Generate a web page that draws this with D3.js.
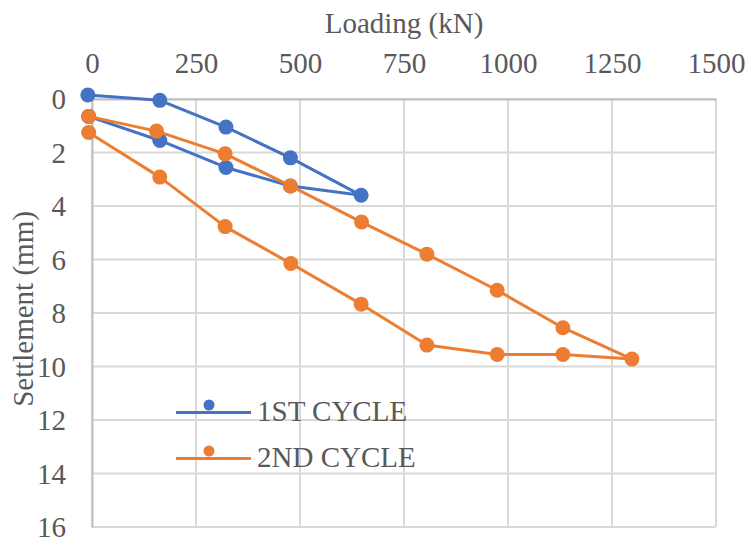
<!DOCTYPE html>
<html>
<head>
<meta charset="utf-8">
<script src="https://cdn.jsdelivr.net/npm/d3@7"></script>
<style>
  body { margin: 0; background: #fff; }
</style>
</head>
<body>
<div id="chart-area"></div>
<script>
// Dane: obciazenie (kN) i osiadanie (mm)
var xTicks = [0, 250, 500, 750, 1000, 1250, 1500];
var yTicks = [0, 2, 4, 6, 8, 10, 12, 14, 16];

var cycle1Load = [-10, 163, 322, 477, 647, 477, 322, 163, -8];
var cycle1Settle = [-0.15, 0.05, 1.05, 2.2, 3.6, 3.25, 2.56, 1.55, 0.65];

var cycle2Load = [-8, 155, 320, 477, 648, 805, 974, 1132, 1298, 1132, 974, 805, 647, 478, 320, 163, -8];
var cycle2Settle = [0.65, 1.2, 2.05, 3.25, 4.6, 5.8, 7.15, 8.55, 9.72, 9.55, 9.55, 9.2, 7.67, 6.15, 4.77, 2.92, 1.25];

var seriesNames = ["1ST CYCLE", "2ND CYCLE"];
var seriesColors = ["#4472C4", "#ED7D31"];

var W = 751, H = 538;
var plot = { left: 92, right: 716, top: 99, bottom: 527 };
var fontStyle = "font-family:'Liberation Serif';font-size:29px;fill:#595959";

var svg = d3.select("#chart-area")
	.append("svg")
	.attr("width", W)
	.attr("height", H)
	.attr("font-family", "Liberation Serif");

var x = d3.scaleLinear().domain([0, 1500]).range([plot.left, plot.right]);
var y = d3.scaleLinear().domain([0, 16]).range([plot.top, plot.bottom]);

// Siatka
svg.append("g").selectAll("line.v")
	.data(xTicks)
	.enter().append("line")
	.attr("x1", d => x(d)).attr("x2", d => x(d))
	.attr("y1", plot.top).attr("y2", plot.bottom)
	.attr("stroke", "#d9d9d9").attr("stroke-width", 2);

svg.append("g").selectAll("line.h")
	.data(yTicks)
	.enter().append("line")
	.attr("x1", plot.left).attr("x2", plot.right)
	.attr("y1", d => y(d)).attr("y2", d => y(d))
	.attr("stroke", "#d9d9d9").attr("stroke-width", 2);

// Osie
var xAxisCall = d3.axisTop(x).tickValues(xTicks).tickFormat(d3.format("d")).tickSize(0).tickPadding(26);
var xAxis = svg.append("g")
	.attr("transform", "translate(0," + plot.top + ")")
	.call(xAxisCall);

var yAxisCall = d3.axisLeft(y).tickValues(yTicks).tickFormat(d3.format("d")).tickSize(0).tickPadding(26);
var yAxis = svg.append("g")
	.attr("transform", "translate(" + plot.left + ",0)")
	.call(yAxisCall);

[xAxis, yAxis].forEach(a => {
	a.attr("font-family", "Liberation Serif");
	a.select(".domain").attr("stroke", "#bfbfbf").attr("stroke-width", 2);
	a.selectAll("text").attr("style", fontStyle);
});
yAxis.selectAll("text").attr("dy", "0.34em");

// Etykiety
svg.append("text")
	.attr("x", (plot.left + plot.right) / 2)
	.attr("y", 33)
	.attr("style", fontStyle)
	.attr("text-anchor", "middle")
	.text("Loading (kN)");

svg.append("text")
	.attr("transform", "translate(33," + ((plot.top + plot.bottom) / 2 - 4) + ") rotate(-90)")
	.attr("style", fontStyle)
	.attr("text-anchor", "middle")
	.text("Settlement (mm)");

// Serie
var series = [
	d3.zip(cycle1Load, cycle1Settle),
	d3.zip(cycle2Load, cycle2Settle)
];

var line = d3.line().x(d => x(d[0])).y(d => y(d[1]));

series.forEach((s, i) => {
	var g = svg.append("g");
	g.append("path")
		.datum(s)
		.attr("d", line)
		.attr("fill", "none")
		.attr("stroke", seriesColors[i])
		.attr("stroke-width", 3)
		.attr("stroke-linejoin", "round");
	g.selectAll("circle")
		.data(s)
		.enter().append("circle")
		.attr("cx", d => x(d[0]))
		.attr("cy", d => y(d[1]))
		.attr("r", 7.5)
		.attr("fill", seriesColors[i]);
});

// Legenda
var legend = svg.append("g");
seriesNames.forEach((name, i) => {
	var ly = 412.5 + i * 46;
	legend.append("line")
		.attr("x1", 176).attr("x2", 251)
		.attr("y1", ly).attr("y2", ly)
		.attr("stroke", seriesColors[i]).attr("stroke-width", 3);
	legend.append("circle")
		.attr("cx", 209).attr("cy", ly - 7.5)
		.attr("r", 5.5)
		.attr("fill", seriesColors[i]);
	legend.append("text")
		.attr("x", 257)
		.attr("y", ly + 8.5)
		.attr("style", fontStyle)
		.text(name);
});
</script>
</body>
</html>
